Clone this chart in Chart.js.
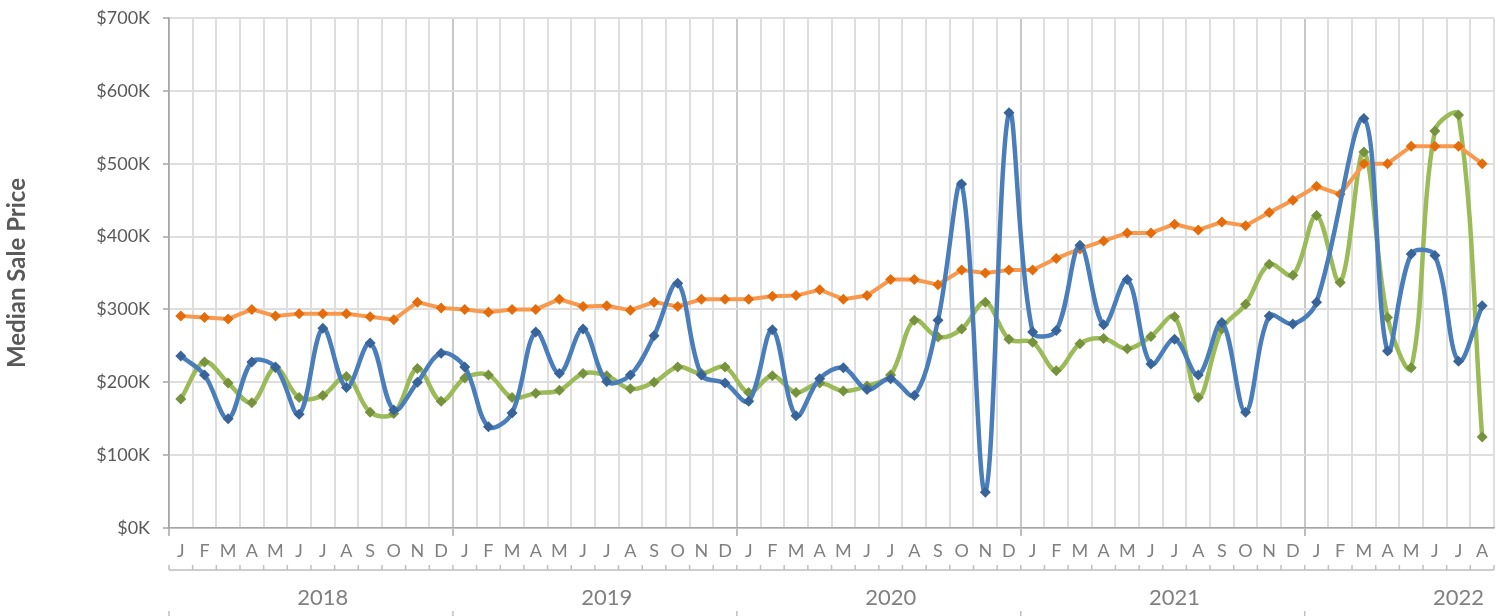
<!DOCTYPE html>
<html>
<head>
<meta charset="utf-8">
<title>Median Sale Price</title>
<script src="https://cdn.jsdelivr.net/npm/chart.js@4/dist/chart.umd.min.js"></script>
<style>
  html, body { margin: 0; padding: 0; background: #fff; }
  #wrap { width: 1511px; height: 616px; }
</style>
</head>
<body>
<div id="wrap"><canvas id="my-chart" width="1511" height="616"></canvas></div>
<script>
'use strict';

// ************** Data ***************

let years = ['2018', '2019', '2020', '2021', '2022'];
let monthLetters = ['J', 'F', 'M', 'A', 'M', 'J', 'J', 'A', 'S', 'O', 'N', 'D'];
let monthsInLastYear = 8;

let yTicks = [0, 100000, 200000, 300000, 400000, 500000, 600000, 700000];

// values in $K, Jan 2018 .. Aug 2022 (blue has no point in Feb 2022)
let blueValues = [
  236, 210, 150, 228, 221, 156, 274, 193, 254, 162, 200, 240,
  221, 139, 158, 269, 212, 273, 201, 210, 264, 336, 210, 199,
  174, 272, 154, 205, 220, 190, 205, 182, 285, 472, 49, 570,
  269, 271, 388, 279, 341, 225, 259, 210, 282, 159, 291, 280,
  310, null, 562, 243, 376, 374, 229, 305
];
let orangeValues = [
  291, 289, 287, 300, 291, 294, 294, 294, 290, 286, 310, 302,
  300, 296, 300, 300, 314, 304, 305, 299, 310, 304, 314, 314,
  314, 318, 319, 327, 314, 319, 341, 341, 334, 354, 350, 354,
  354, 370, 383, 394, 405, 405, 417, 409, 420, 415, 433, 450,
  469, 458, 500, 500, 524, 524, 524, 500
];
let greenValues = [
  177, 228, 199, 172, 220, 179, 182, 208, 159, 157, 219, 174,
  206, 210, 179, 185, 189, 212, 209, 191, 200, 221, 212, 221,
  186, 209, 186, 199, 188, 195, 210, 285, 262, 273, 310, 259,
  255, 216, 253, 260, 246, 263, 290, 179, 273, 307, 362, 347,
  429, 337, 516, 289, 220, 545, 567, 125
];

// ************** Build labels ***************

let categories = [];
for (let y = 0; y < years.length; y++) {
  let count = y === years.length - 1 ? monthsInLastYear : 12;
  for (let m = 0; m < count; m++) {
    categories.push(monthLetters[m]);
  }
}

function toDollars(arr) {
  return arr.map(v => v === null ? null : v * 1000);
}

let font = 'Lato, "Open Sans", sans-serif';

// ************** Year row under the month labels ***************

let yearRowPlugin = {
  id: 'yearRow',
  afterDraw(chart) {
    let ctx = chart.ctx;
    let xs = chart.scales.x;
    let edge = i => xs.getPixelForValue(i - 0.5);
    let lineY = xs.top + 42;
    let n = categories.length;

    ctx.save();
    ctx.strokeStyle = '#bfbfbf';
    ctx.lineWidth = 1.5;
    ctx.beginPath();
    ctx.moveTo(edge(0), lineY);
    ctx.lineTo(edge(n), lineY);
    for (let i = 0; i <= n; i++) {
      ctx.moveTo(edge(i), lineY);
      ctx.lineTo(edge(i), lineY - 5);
    }
    for (let y = 0; y < years.length; y++) {
      ctx.moveTo(edge(y * 12), chart.height - 5);
      ctx.lineTo(edge(y * 12), chart.height);
    }
    ctx.stroke();

    ctx.fillStyle = '#808080';
    ctx.font = '22px ' + font;
    ctx.textAlign = 'center';
    ctx.textBaseline = 'middle';
    for (let y = 0; y < years.length; y++) {
      ctx.fillText(years[y], xs.getPixelForValue(y * 12 + 6), lineY + 28);
    }
    ctx.restore();
  }
};

// ************** Chart ***************

let ctx = document.getElementById('my-chart').getContext('2d');

new Chart(ctx, {
  type: 'line',
  data: {
    labels: categories,
    datasets: [
      {
        label: 'Neighborhood A',
        data: toDollars(blueValues),
        borderColor: '#4a7ebb',
        backgroundColor: '#38649a',
        borderWidth: 4.5,
        tension: 0.35,
        spanGaps: true,
        pointStyle: 'rectRot',
        pointRadius: 5.5,
        pointBorderWidth: 0,
        pointBackgroundColor: '#38649a'
      },
      {
        label: 'Metro',
        data: toDollars(orangeValues),
        borderColor: '#f79a4f',
        backgroundColor: '#e46c0a',
        borderWidth: 4,
        tension: 0,
        pointStyle: 'rectRot',
        pointRadius: 5.5,
        pointBorderWidth: 0,
        pointBackgroundColor: '#e46c0a'
      },
      {
        label: 'Neighborhood B',
        data: toDollars(greenValues),
        borderColor: '#9bbb59',
        backgroundColor: '#76923c',
        borderWidth: 4.5,
        tension: 0.35,
        pointStyle: 'rectRot',
        pointRadius: 5.5,
        pointBorderWidth: 0,
        pointBackgroundColor: '#76923c'
      }
    ]
  },
  options: {
    responsive: false,
    animation: false,
    layout: { padding: { left: 0, right: 17, top: 18, bottom: 0 } },
    plugins: {
      legend: { display: false },
      tooltip: { enabled: false }
    },
    scales: {
      x: {
        offset: true,
        grid: {
          offset: true,
          lineWidth: 2,
          color: c => c.index % 12 === 0 ? '#c8c8c8' : '#dedede',
          tickLength: 8,
          tickWidth: 1.5,
          tickColor: c => c.index % 12 === 0 ? '#a6a6a6' : 'rgba(0,0,0,0)'
        },
        border: { color: '#a6a6a6', width: 1.5 },
        ticks: {
          autoSkip: false,
          maxRotation: 0,
          color: '#808080',
          padding: 4,
          font: { family: font, size: 18 }
        },
        afterFit: s => { s.height = 88; s.paddingLeft = 0; s.paddingRight = 0; }
      },
      y: {
        min: 0,
        max: 700000,
        afterBuildTicks: s => { s.ticks = yTicks.map(v => ({ value: v })); },
        grid: {
          lineWidth: 2,
          color: '#dedede',
          tickLength: 6,
          tickWidth: 1.5,
          tickColor: '#a6a6a6'
        },
        border: { color: '#a6a6a6', width: 1.5 },
        ticks: {
          color: '#595959',
          padding: 13,
          font: { family: font, size: 18 },
          callback: v => '$' + (v / 1000) + 'K'
        },
        title: {
          display: true,
          text: 'Median Sale Price',
          color: '#595959',
          padding: { top: 3, bottom: 0 },
          font: { family: font, size: 24, weight: 'bold' }
        },
        afterFit: s => { s.width = 169; s.paddingTop = 0; s.paddingBottom = 0; }
      }
    }
  },
  plugins: [yearRowPlugin]
});
</script>
</body>
</html>
